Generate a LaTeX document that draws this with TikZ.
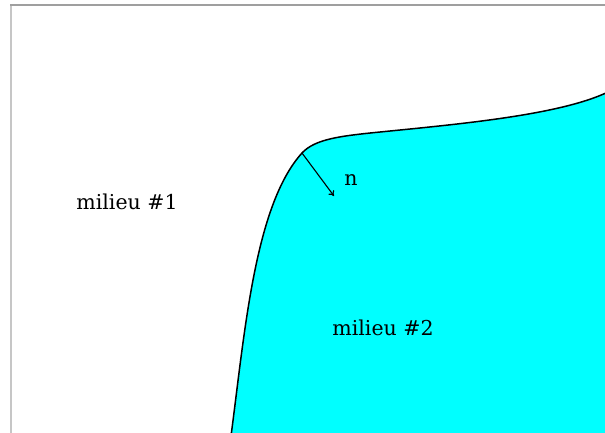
\documentclass[tikz,border=0pt]{standalone}
\usepackage{fontspec}
\setmainfont{DejaVu Serif}
\usetikzlibrary{arrows.meta}
\definecolor{aqua}{RGB}{0,255,255}

\begin{document}
\begin{tikzpicture}[x=1pt, y=-1pt,
  lab/.style={font=\fontsize{20.5}{24}\selectfont, anchor=base, inner sep=0pt},
  arr/.style={-{To[length=5pt, width=7pt]}, line width=1.1pt}]
\useasboundingbox (0,0) rectangle (605,432);
% frame, cut by the page edge
\draw[gray!45, line width=2pt] (11,440) -- (11,5);
\draw[gray!75, line width=1.6pt] (10,5) -- (615,5);
% medium 2
\fill[aqua] (231,436) .. controls (245,330) and (255,205) .. (302,153)
  .. controls (315,139) and (340,136) .. (380,132)
  .. controls (460,124) and (560,115) .. (608,92) -- (608,436) -- cycle;
\draw[line width=1.5pt] (231,436) .. controls (245,330) and (255,205) .. (302,153)
  .. controls (315,139) and (340,136) .. (380,132)
  .. controls (460,124) and (560,115) .. (608,92);
% normal
\coordinate (foot) at (302,153);
\coordinate (tip) at (334,196);
\draw[arr] (foot) -- (tip);
\node[lab] (nlab) at (351,185) {n};
\node[lab] (med1) at (127,209) {milieu \#1};
\node[lab] (med2) at (383,335) {milieu \#2};
\end{tikzpicture}
\end{document}
